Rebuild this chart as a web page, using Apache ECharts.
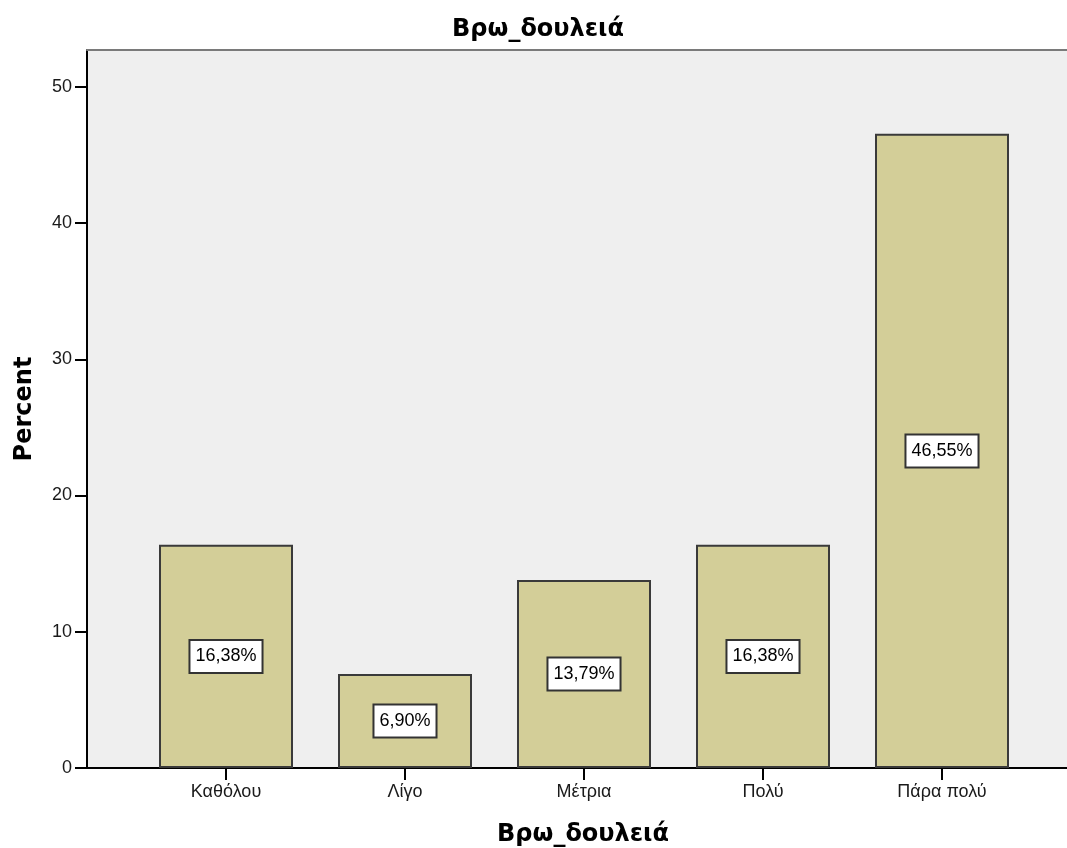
<!DOCTYPE html>
<html>
<head>
<meta charset="utf-8">
<script src="https://cdn.jsdelivr.net/npm/echarts@6/dist/echarts.min.js"></script>
<style>
  html, body { margin: 0; padding: 0; background: #fff; }
  #chart { width: 1067px; height: 848px; }
</style>
</head>
<body>
<div id="chart"></div>
<script>
// Responses to "Βρω_δουλειά" (percent of respondents)
const categories = ['Καθόλου', 'Λίγο', 'Μέτρια', 'Πολύ', 'Πάρα πολύ'];
const percents = [16.38, 6.90, 13.79, 16.38, 46.55];
const yTicks = [0, 10, 20, 30, 40, 50];
const titleText = 'Βρω_δουλειά';
const yName = 'Percent';

const FONT = '"Liberation Sans", Arial, sans-serif';
const BOLD_FONT = '"DejaVu Sans", sans-serif';
const Y_MAX = 52.7;

const chart = echarts.init(document.getElementById('chart'), null, { renderer: 'canvas' });

const fmt = v => v.toFixed(2).replace('.', ',') + '%';

chart.setOption({
  animation: false,
  backgroundColor: '#ffffff',
  title: [
    {
      text: titleText,
      left: 533, top: 13, textAlign: 'center',
      textStyle: { fontFamily: BOLD_FONT, fontSize: 24, fontWeight: 'bold', color: '#000' }
    },
    {
      text: titleText,
      left: 578, top: 818, textAlign: 'center',
      textStyle: { fontFamily: BOLD_FONT, fontSize: 24, fontWeight: 'bold', color: '#000' }
    }
  ],
  grid: [
    // frame, background and value axis
    { left: 87, right: 0, top: 50, bottom: 80, show: true, outerBoundsMode: 'none',
      containLabel: false, backgroundColor: '#efefef', borderWidth: 0 },
    // bar area
    { left: 136.5, right: 35.5, top: 50, bottom: 80, outerBoundsMode: 'none', containLabel: false }
  ],
  xAxis: [
    { gridIndex: 0, type: 'value', min: 0, max: 1, position: 'bottom',
      axisLine: { show: true, onZero: false, lineStyle: { color: '#000', width: 2 } },
      axisTick: { show: false }, axisLabel: { show: false }, splitLine: { show: false } },
    { gridIndex: 0, type: 'value', min: 0, max: 1, position: 'top',
      axisLine: { show: true, onZero: false, lineStyle: { color: '#7a7a7a', width: 2 } },
      axisTick: { show: false }, axisLabel: { show: false }, splitLine: { show: false } },
    { gridIndex: 1, type: 'category', data: categories,
      axisLine: { show: false },
      axisTick: { show: true, alignWithLabel: true, length: 12, lineStyle: { color: '#000', width: 2 } },
      axisLabel: { margin: 15, fontFamily: FONT, fontSize: 18, color: '#1a1a1a' } }
  ],
  yAxis: [
    { gridIndex: 0, type: 'value', min: 0, max: Y_MAX, interval: 10,
      name: yName, nameLocation: 'middle', nameGap: 50, nameRotate: 90,
      nameTextStyle: { fontFamily: BOLD_FONT, fontSize: 24, fontWeight: 'bold', color: '#000' },
      axisLine: { show: true, lineStyle: { color: '#000', width: 2 } },
      axisTick: { show: true, length: 12, lineStyle: { color: '#000', width: 2 } },
      axisLabel: { margin: 15, fontFamily: FONT, fontSize: 18, color: '#1a1a1a',
        showMaxLabel: false,
        formatter: v => (yTicks.indexOf(v) >= 0 ? String(v) : '') },
      splitLine: { show: false } },
    { gridIndex: 1, type: 'value', min: 0, max: Y_MAX, show: false }
  ],
  series: [
    {
      type: 'bar',
      xAxisIndex: 2, yAxisIndex: 1,
      data: percents,
      barWidth: 134,
      itemStyle: { color: '#d3ce98', borderColor: '#3a3a3a', borderWidth: 2 },
      label: {
        show: true, position: 'inside',
        formatter: p => fmt(p.value),
        fontFamily: FONT, fontSize: 18, color: '#000',
        backgroundColor: '#ffffff', borderColor: '#333', borderWidth: 2,
        padding: [7, 5, 6, 5]
      }
    }
  ]
});
</script>
</body>
</html>
